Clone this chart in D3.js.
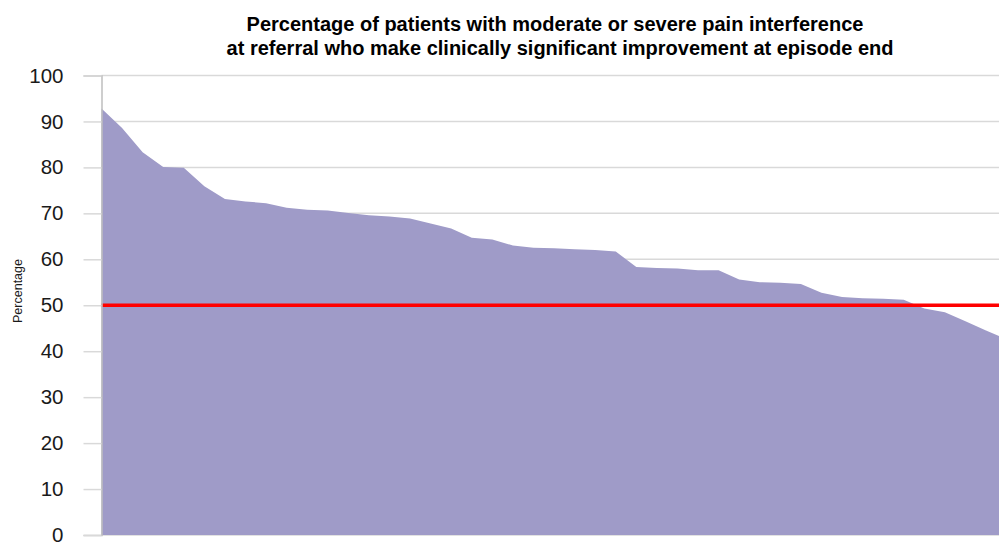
<!DOCTYPE html>
<html>
<head>
<meta charset="utf-8">
<script src="https://cdn.jsdelivr.net/npm/d3@7"></script>
<style>
  body { margin: 0; background: #fff; }
  svg { display: block; font-family: "Liberation Sans", Arial, sans-serif; }
</style>
</head>
<body>
<div id="chart"></div>
<script>
const width = 999;
const height = 542;

// providers ordered from highest to lowest improvement rate
const providers = d3.range(1, 46).map(i => "P" + i);
const percentages = [
	92.8, 88.6, 83.3, 80.1, 79.9, 75.9, 73.1, 72.6, 72.2, 71.2,
	70.8, 70.6, 70.1, 69.6, 69.3, 68.9, 67.8, 66.7, 64.7, 64.3,
	63.0, 62.5, 62.4, 62.2, 62.0, 61.7, 58.3, 58.1, 58.0, 57.6,
	57.6, 55.6, 55.0, 54.9, 54.6, 52.7, 51.8, 51.5, 51.4, 51.2,
	49.3, 48.5, 46.5, 44.5, 42.6,
];
const target = 50;
const yTicks = [0, 10, 20, 30, 40, 50, 60, 70, 80, 90, 100];
const titleLines = [
	"Percentage of patients with moderate or severe pain interference",
	"at referral who make clinically significant improvement at episode end",
];

const data = providers.map((p, i) => ({ provider: p, value: percentages[i] }));

const plotLeft = 101.5, plotTop = 75.5, plotBottom = 535;

const svg = d3.select("#chart").append("svg").attr("width", width).attr("height", height);

// last provider sits just past the right edge, as in the original
const x = d3.scalePoint().domain(providers).range([plotLeft, plotLeft + 44 * 20.57]);
const y = d3.scaleLinear().domain([0, 100]).range([plotBottom, plotTop]);

// gridlines
svg
	.append("g")
	.selectAll("line")
	.data(yTicks)
	.join("line")
	.attr("x1", plotLeft)
	.attr("x2", width)
	.attr("y1", d => y(d))
	.attr("y2", d => y(d))
	.attr("stroke", "#d9d9d9")
	.attr("stroke-width", 1.5);

// area
const area = d3
	.area()
	.x(d => x(d.provider))
	.y0(y(0))
	.y1(d => y(d.value));

svg.append("path").datum(data).attr("d", area).attr("fill", "#9f9bc8");

// target line
svg
	.append("line")
	.attr("x1", plotLeft)
	.attr("x2", width)
	.attr("y1", y(target))
	.attr("y2", y(target))
	.attr("stroke", "#ff0000")
	.attr("stroke-width", 3.5);

// y axis
const yAxis = svg
	.append("g")
	.attr("transform", `translate(${plotLeft},0)`)
	.call(d3.axisLeft(y).tickValues(yTicks).tickSize(18).tickPadding(20));
yAxis.select(".domain").attr("stroke", "#bfbfbf").attr("stroke-width", 1.5);
yAxis.selectAll(".tick line").attr("stroke", "#d9d9d9").attr("stroke-width", 1.5);
yAxis
	.selectAll(".tick text")
	.attr("font-size", 20.5)
	.attr("font-family", "Liberation Sans, Arial, sans-serif")
	.attr("fill", "#1a1a1a");

// y axis title
svg
	.append("text")
	.attr("transform", "translate(19,291) rotate(-90)")
	.attr("text-anchor", "middle")
	.attr("dominant-baseline", "middle")
	.attr("font-size", 12.5)
	.attr("fill", "#1a1a1a")
	.text("Percentage");

// chart title
svg
	.append("g")
	.selectAll("text")
	.data(titleLines)
	.join("text")
	.attr("x", (d, i) => (i === 0 ? 555 : 560))
	.attr("y", (d, i) => 31 + i * 23.5)
	.attr("text-anchor", "middle")
	.attr("font-size", 20)
	.attr("font-weight", "bold")
	.attr("fill", "#000")
	.text(d => d);
</script>
</body>
</html>
